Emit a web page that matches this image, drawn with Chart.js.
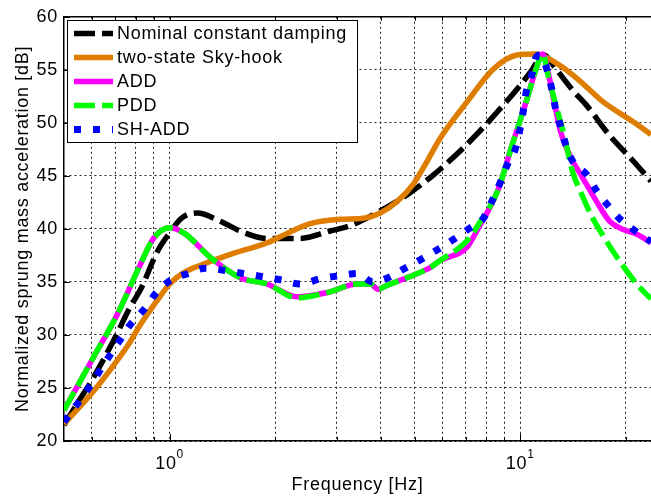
<!DOCTYPE html>
<html>
<head>
<meta charset="utf-8">
<script src="https://cdn.jsdelivr.net/npm/chart.js@4.4.0/dist/chart.umd.min.js"></script>
<style>
  html, body { margin: 0; padding: 0; background: #fff; overflow: hidden; }
  #wrap { width: 651px; height: 497px; position: relative; }
</style>
</head>
<body>
<div id="wrap"><canvas id="fig"></canvas></div>
<script>
// Frequency response curves, dB vs Hz
const freqNominal = [0.5, 0.547, 0.607, 0.693, 0.774, 0.827, 0.924, 1.0, 1.08, 1.2, 1.4, 1.59, 1.9, 2.36, 2.87, 3.27, 3.99, 4.75, 5.66, 7.06, 8.8, 10.7, 11.2, 11.7, 12.5, 14.1, 15.5, 18.0, 21.0, 23.6];
const dbNominal   = [21.5, 23.6, 26.0, 29.5, 32.7, 34.3, 37.9, 39.6, 41.0, 41.5, 40.7, 39.8, 39.1, 39.1, 39.8, 40.3, 41.7, 43.2, 45.1, 48.0, 51.4, 54.8, 55.8, 56.4, 55.3, 53.1, 51.6, 48.8, 46.4, 44.5];

const freqSkyhook = [0.5, 0.6, 0.684, 0.76, 0.827, 0.924, 1.0, 1.1, 1.23, 1.52, 1.9, 2.17, 2.52, 3.07, 3.57, 3.99, 4.46, 4.95, 5.43, 5.9, 7.06, 8.4, 9.8, 11.1, 12.7, 14.5, 17.2, 21.0, 23.6];
const dbSkyhook   = [21.6, 24.5, 26.9, 29.0, 31.0, 33.3, 34.8, 35.9, 36.6, 37.7, 38.7, 39.6, 40.5, 40.9, 41.0, 41.5, 42.6, 44.2, 46.4, 48.5, 52.0, 55.1, 56.4, 56.5, 55.6, 54.2, 52.0, 50.1, 48.9];

const freqADD = [0.5, 0.607, 0.711, 0.827, 0.9, 1.0, 1.1, 1.31, 1.59, 1.9, 2.31, 2.82, 3.43, 3.74, 3.94, 4.12, 4.75, 5.5, 5.9, 7.06, 7.6, 8.6, 9.5, 10.4, 11.1, 11.6, 12.0, 12.6, 13.0, 14.0, 14.9, 16.5, 18.0, 19.5, 21.5, 23.6];
const dbADD   = [22.9, 27.9, 32.0, 36.7, 39.1, 40.1, 39.6, 37.3, 35.4, 34.8, 33.6, 34.0, 34.8, 34.8, 34.3, 34.6, 35.4, 36.3, 37.0, 38.3, 40.1, 43.5, 48.0, 52.0, 55.1, 56.5, 54.8, 51.4, 49.3, 46.6, 45.1, 42.6, 40.7, 40.0, 39.5, 38.7];

const freqPDD = [0.5, 0.607, 0.711, 0.827, 0.9, 1.0, 1.1, 1.31, 1.59, 1.9, 2.31, 2.82, 3.43, 3.74, 3.94, 4.12, 4.75, 5.5, 5.9, 7.06, 7.7, 8.6, 9.5, 10.4, 11.1, 11.6, 12.0, 12.7, 13.3, 14.1, 15.0, 16.1, 17.5, 18.9, 21.5, 23.6];
const dbPDD   = [22.9, 27.9, 32.0, 36.7, 39.1, 40.1, 39.6, 37.3, 35.4, 34.8, 33.5, 34.0, 34.8, 34.8, 34.3, 34.6, 35.4, 36.3, 37.0, 38.9, 40.7, 43.5, 48.0, 52.0, 55.1, 56.5, 54.5, 51.4, 49.0, 45.4, 43.2, 41.0, 39.0, 37.3, 34.8, 33.4];

const freqSHADD = [0.5, 0.588, 0.679, 0.725, 0.774, 0.855, 0.912, 1.0, 1.13, 1.27, 1.43, 1.62, 1.84, 2.07, 2.36, 2.69, 3.07, 3.43, 3.8, 4.2, 4.7, 5.26, 5.85, 6.45, 7.2, 7.85, 8.3, 8.8, 9.2, 9.7, 10.0, 10.2, 10.4, 10.8, 11.1, 11.4, 11.9, 12.3, 12.6, 13.0, 13.4, 14.1, 15.5, 16.5, 17.8, 19.3, 21.3, 23.6];
const dbSHADD   = [21.8, 25.0, 28.2, 29.6, 31.0, 32.6, 33.9, 35.1, 35.8, 36.3, 36.1, 35.8, 35.5, 35.2, 34.8, 35.3, 35.6, 35.8, 35.0, 35.4, 36.3, 37.2, 38.1, 39.0, 40.1, 41.0, 42.6, 44.5, 46.1, 47.6, 49.5, 51.1, 52.9, 54.6, 56.2, 56.4, 55.1, 53.2, 51.4, 49.8, 48.2, 46.4, 45.1, 43.6, 42.2, 40.9, 39.8, 38.8];

const seriesNames = ['Nominal constant damping', 'two-state Sky-hook', 'ADD', 'PDD', 'SH-ADD'];
const xGrid = [0.6, 0.7, 0.8, 0.9, 1, 2, 3, 4, 5, 6, 7, 8, 9, 10, 20];
const xDecades = [1, 10];
const decadeExp = ['0', '1'];

const FONT = 'Liberation Sans, Arial, Helvetica, sans-serif';
const SPACING = '0.7px';

function pairs(xs, ys) {
    return xs.map((v, i) => ({ x: v, y: ys[i] }));
}

// box, inward ticks, decade labels and the legend, MATLAB style
const figureFrame = {
    id: 'figureFrame',
    beforeLayout(chart) { chart.ctx.letterSpacing = SPACING; },
    beforeDraw(chart) { chart.ctx.letterSpacing = SPACING; },
    afterDraw(chart) {
        const ctx = chart.ctx;
        const a = chart.chartArea;
        const x = chart.scales.x;
        const y = chart.scales.y;
        ctx.save();
        ctx.letterSpacing = SPACING;
        ctx.strokeStyle = '#000';
        ctx.lineWidth = 1.5;
        ctx.setLineDash([]);
        ctx.beginPath();
        ctx.moveTo(a.left, a.top);
        ctx.lineTo(a.right, a.top);
        ctx.stroke();

        ctx.lineWidth = 1;
        ctx.beginPath();
        xGrid.forEach(v => {
            const px = Math.round(x.getPixelForValue(v)) + 0.5;
            const len = xDecades.includes(v) ? 7 : 4;
            ctx.moveTo(px, a.bottom); ctx.lineTo(px, a.bottom - len);
            ctx.moveTo(px, a.top); ctx.lineTo(px, a.top + len);
        });
        y.ticks.forEach(t => {
            const py = Math.round(y.getPixelForValue(t.value)) + 0.5;
            ctx.moveTo(a.left, py); ctx.lineTo(a.left + 6, py);
        });
        ctx.stroke();

        // 10^0, 10^1 under the axis
        ctx.fillStyle = '#000';
        ctx.textAlign = 'left';
        ctx.textBaseline = 'alphabetic';
        xDecades.forEach((v, i) => {
            const px = x.getPixelForValue(v);
            ctx.font = '18px ' + FONT;
            const wBase = ctx.measureText('10').width;
            ctx.font = '12px ' + FONT;
            const wExp = ctx.measureText(decadeExp[i]).width;
            const start = px - (wBase + wExp) / 2;
            ctx.font = '18px ' + FONT;
            ctx.fillText('10', start, a.bottom + 28);
            ctx.font = '12px ' + FONT;
            ctx.fillText(decadeExp[i], start + wBase, a.bottom + 17);
        });

        // legend box
        const bx = 67.5, by = 20.5, bw = 290, bh = 122;
        ctx.fillStyle = '#fff';
        ctx.fillRect(bx, by, bw, bh);
        ctx.strokeStyle = '#000';
        ctx.lineWidth = 1;
        ctx.strokeRect(bx, by, bw, bh);
        chart.data.datasets.forEach((ds, i) => {
            const ly = 33.5 + i * 24;
            ctx.save();
            ctx.strokeStyle = ds.borderColor;
            ctx.lineWidth = ds.borderWidth;
            ctx.lineCap = 'butt';
            ctx.setLineDash(ds.borderDash || []);
            ctx.beginPath();
            ctx.moveTo(74, ly);
            ctx.lineTo(113, ly);
            ctx.stroke();
            ctx.restore();
            ctx.fillStyle = '#000';
            ctx.font = '18px ' + FONT;
            ctx.textBaseline = 'middle';
            ctx.fillText(ds.label, 117, ly + 1);
        });
        ctx.restore();
    }
};

const lineDefaults = {
    pointRadius: 0,
    fill: false,
    cubicInterpolationMode: 'monotone',
    borderCapStyle: 'butt',
    borderJoinStyle: 'round'
};

const ctx = document.getElementById('fig').getContext('2d');
const chart = new Chart(ctx, {
    type: 'line',
    data: {
        datasets: [
            {
                ...lineDefaults,
                label: seriesNames[0],
                data: pairs(freqNominal, dbNominal),
                borderColor: '#000000',
                borderWidth: 5.5,
                borderDash: [21, 7],
                order: 5
            },
            {
                ...lineDefaults,
                label: seriesNames[1],
                data: pairs(freqSkyhook, dbSkyhook),
                borderColor: '#DE7D00',
                borderWidth: 5.5,
                order: 4
            },
            {
                ...lineDefaults,
                label: seriesNames[2],
                data: pairs(freqADD, dbADD),
                borderColor: '#FF00FF',
                borderWidth: 5.5,
                order: 3
            },
            {
                ...lineDefaults,
                label: seriesNames[3],
                data: pairs(freqPDD, dbPDD),
                borderColor: '#00FF00',
                borderWidth: 5.5,
                borderDash: [21, 7],
                order: 2
            },
            {
                ...lineDefaults,
                label: seriesNames[4],
                data: pairs(freqSHADD, dbSHADD),
                borderColor: '#0000FF',
                borderWidth: 7,
                borderDash: [7, 12],
                order: 1
            }
        ]
    },
    options: {
        responsive: true,
        maintainAspectRatio: false,
        animation: false,
        devicePixelRatio: 1,
        layout: {
            padding: { top: 15, right: 0, bottom: 0, left: 0 }
        },
        plugins: {
            legend: { display: false },
            tooltip: { enabled: false }
        },
        scales: {
            x: {
                type: 'logarithmic',
                min: 0.5,
                max: 23.6,
                afterBuildTicks: axis => {
                    axis.ticks = xGrid.map(v => ({ value: v }));
                },
                afterFit: scale => { scale.height = 56; },
                ticks: { display: false },
                grid: { color: '#222', lineWidth: 1, drawTicks: false },
                border: { display: true, color: '#000', width: 1.5, dash: [2, 3] },
                title: {
                    display: true,
                    text: 'Frequency [Hz]',
                    color: '#000',
                    font: { family: FONT, size: 18 },
                    padding: { top: 0, bottom: 1 }
                }
            },
            y: {
                min: 20,
                max: 60,
                afterFit: scale => { scale.width = 64; },
                ticks: {
                    stepSize: 5,
                    color: '#000',
                    padding: 6,
                    font: { family: FONT, size: 18 }
                },
                grid: { color: '#222', lineWidth: 1, drawTicks: false },
                border: { display: true, color: '#000', width: 1.5, dash: [2, 3] },
                title: {
                    display: true,
                    text: 'Normalized sprung mass acceleration [dB]',
                    color: '#000',
                    font: { family: FONT, size: 18 },
                    padding: { top: 12, bottom: 0 }
                }
            }
        }
    },
    plugins: [figureFrame]
});
</script>
</body>
</html>
